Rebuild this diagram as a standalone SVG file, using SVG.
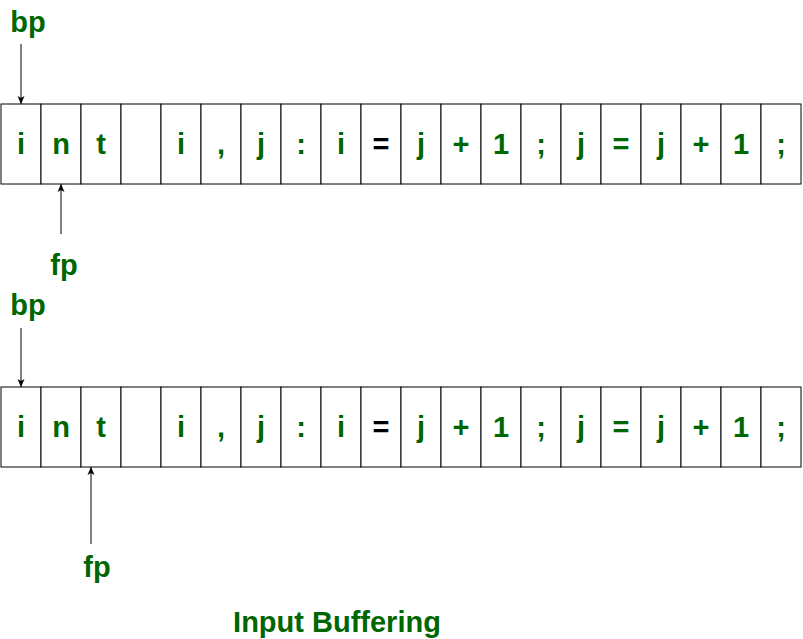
<svg xmlns="http://www.w3.org/2000/svg" width="803" height="639" viewBox="0 0 803 639">
<defs>
<marker id="ah" markerWidth="9" markerHeight="9" refX="8" refY="4.5" orient="auto" markerUnits="userSpaceOnUse">
<path d="M0,1 L8,4.5 L0,8 L2,4.5 Z" fill="#000"/>
</marker>
</defs>
<style>
.cell{fill:#fff;stroke:#000;stroke-width:1}
.t{font-family:"Liberation Sans",Arial,sans-serif;font-weight:bold;font-size:29px;fill:#006600;text-anchor:middle}
.k{fill:#000}
.a{stroke:#000;stroke-width:1;fill:none;marker-end:url(#ah)}
</style>
<rect width="803" height="639" fill="#fff"/>
<g id="row1">
<rect class="cell" x="1" y="104" width="40" height="80"/><rect class="cell" x="41" y="104" width="40" height="80"/><rect class="cell" x="81" y="104" width="40" height="80"/><rect class="cell" x="121" y="104" width="40" height="80"/><rect class="cell" x="161" y="104" width="40" height="80"/><rect class="cell" x="201" y="104" width="40" height="80"/><rect class="cell" x="241" y="104" width="40" height="80"/><rect class="cell" x="281" y="104" width="40" height="80"/><rect class="cell" x="321" y="104" width="40" height="80"/><rect class="cell" x="361" y="104" width="40" height="80"/><rect class="cell" x="401" y="104" width="40" height="80"/><rect class="cell" x="441" y="104" width="40" height="80"/><rect class="cell" x="481" y="104" width="40" height="80"/><rect class="cell" x="521" y="104" width="40" height="80"/><rect class="cell" x="561" y="104" width="40" height="80"/><rect class="cell" x="601" y="104" width="40" height="80"/><rect class="cell" x="641" y="104" width="40" height="80"/><rect class="cell" x="681" y="104" width="40" height="80"/><rect class="cell" x="721" y="104" width="40" height="80"/><rect class="cell" x="761" y="104" width="40" height="80"/>
<text class="t" x="21" y="154">i</text><text class="t" x="61" y="154">n</text><text class="t" x="101" y="154">t</text><text class="t" x="181" y="154">i</text><text class="t" x="221" y="154">,</text><text class="t" x="261" y="154">j</text><text class="t" x="301" y="154">:</text><text class="t" x="341" y="154">i</text><text class="t k" x="381" y="154">=</text><text class="t" x="421" y="154">j</text><text class="t" x="461" y="154">+</text><text class="t" x="501" y="154">1</text><text class="t" x="541" y="154">;</text><text class="t" x="581" y="154">j</text><text class="t" x="621" y="154">=</text><text class="t" x="661" y="154">j</text><text class="t" x="701" y="154">+</text><text class="t" x="741" y="154">1</text><text class="t" x="781" y="154">;</text>
</g>
<g id="row2">
<rect class="cell" x="1" y="387" width="40" height="80"/><rect class="cell" x="41" y="387" width="40" height="80"/><rect class="cell" x="81" y="387" width="40" height="80"/><rect class="cell" x="121" y="387" width="40" height="80"/><rect class="cell" x="161" y="387" width="40" height="80"/><rect class="cell" x="201" y="387" width="40" height="80"/><rect class="cell" x="241" y="387" width="40" height="80"/><rect class="cell" x="281" y="387" width="40" height="80"/><rect class="cell" x="321" y="387" width="40" height="80"/><rect class="cell" x="361" y="387" width="40" height="80"/><rect class="cell" x="401" y="387" width="40" height="80"/><rect class="cell" x="441" y="387" width="40" height="80"/><rect class="cell" x="481" y="387" width="40" height="80"/><rect class="cell" x="521" y="387" width="40" height="80"/><rect class="cell" x="561" y="387" width="40" height="80"/><rect class="cell" x="601" y="387" width="40" height="80"/><rect class="cell" x="641" y="387" width="40" height="80"/><rect class="cell" x="681" y="387" width="40" height="80"/><rect class="cell" x="721" y="387" width="40" height="80"/><rect class="cell" x="761" y="387" width="40" height="80"/>
<text class="t" x="21" y="437">i</text><text class="t" x="61" y="437">n</text><text class="t" x="101" y="437">t</text><text class="t" x="181" y="437">i</text><text class="t" x="221" y="437">,</text><text class="t" x="261" y="437">j</text><text class="t" x="301" y="437">:</text><text class="t" x="341" y="437">i</text><text class="t k" x="381" y="437">=</text><text class="t" x="421" y="437">j</text><text class="t" x="461" y="437">+</text><text class="t" x="501" y="437">1</text><text class="t" x="541" y="437">;</text><text class="t" x="581" y="437">j</text><text class="t" x="621" y="437">=</text><text class="t" x="661" y="437">j</text><text class="t" x="701" y="437">+</text><text class="t" x="741" y="437">1</text><text class="t" x="781" y="437">;</text>
</g>
<g id="bp1"><text class="t" x="28" y="32">bp</text></g>
<g id="fp1"><text class="t" x="64" y="275">fp</text></g>
<g id="bp2"><text class="t" x="28" y="315">bp</text></g>
<g id="fp2"><text class="t" x="97" y="577">fp</text></g>
<g id="caption"><text class="t" x="337" y="632">Input Buffering</text></g>
<g id="connectors">
<line class="a" x1="21" y1="44" x2="21" y2="104"/>
<line class="a" x1="61" y1="234" x2="61" y2="184"/>
<line class="a" x1="21" y1="328" x2="21" y2="387"/>
<line class="a" x1="91" y1="544" x2="91" y2="467"/>
</g>
</svg>
